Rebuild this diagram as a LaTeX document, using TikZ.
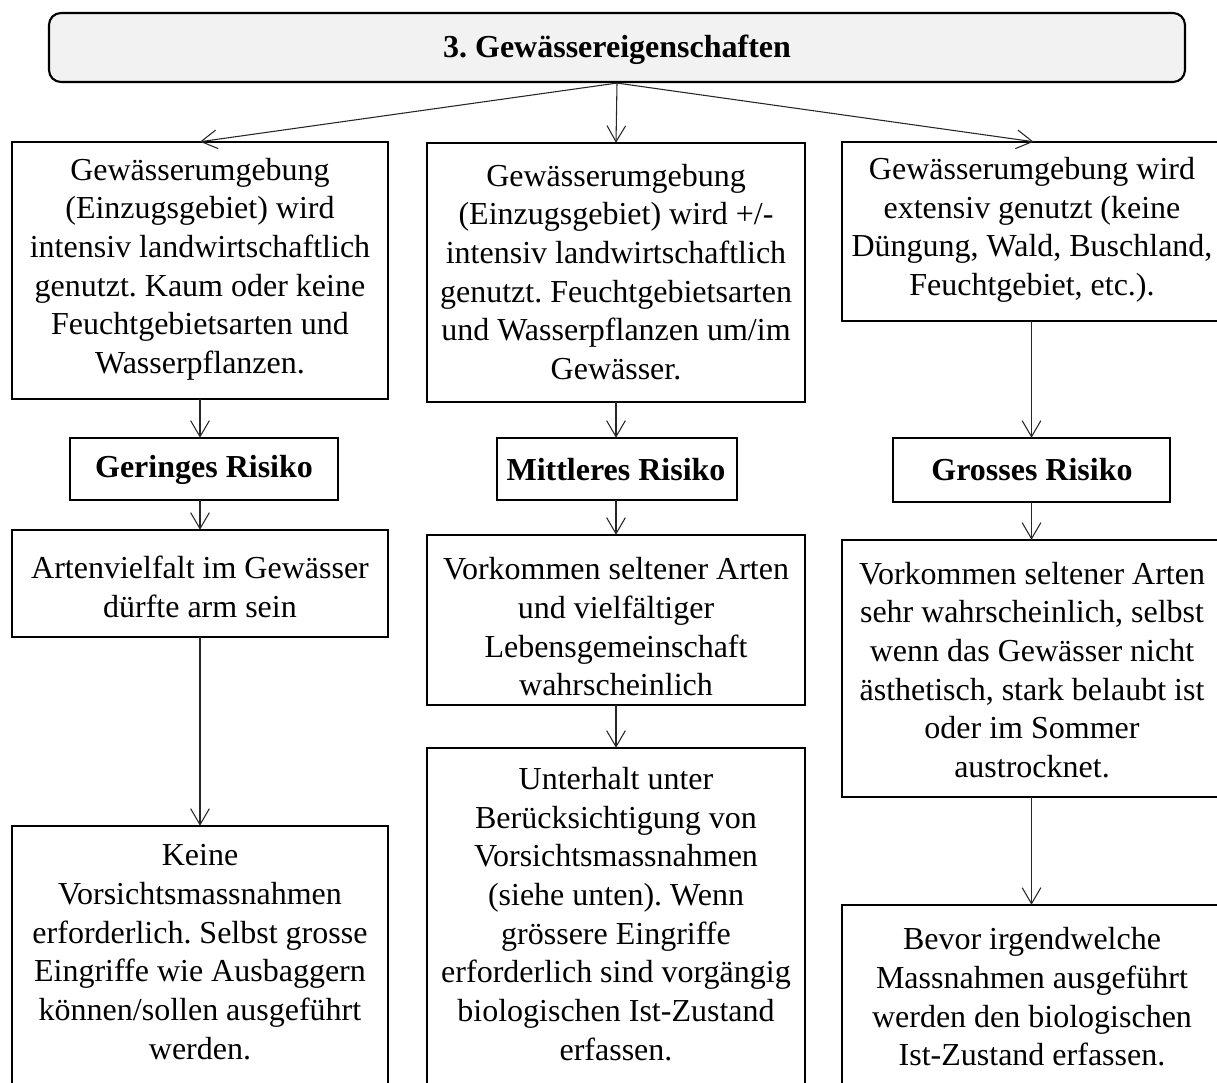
\documentclass[tikz,border=0pt]{standalone}
\usepackage{fontspec}
\setmainfont{Liberation Serif}
\frenchspacing
\usetikzlibrary{arrows.meta}
\definecolor{topfill}{HTML}{F2F2F2}
\tikzset{
  x=0.75pt, y=-0.75pt,
  boxstyle/.style={draw=black, line width=1.6pt, rectangle, inner sep=0pt},
  txt/.style={align=center, font=\fontsize{24}{29}\selectfont, inner sep=0pt},
  btxt/.style={align=center, font=\fontsize{24}{29}\selectfont\bfseries, inner sep=0pt},
  conn/.style={draw=black!85, line width=0.8pt, -{Straight Barb[length=12pt,width=14pt,line width=0.8pt]}},
}
\newcommand{\mybox}[5]{% name, x1, y1, x2, y2
  \path[boxstyle] (#2,#3) rectangle (#4,#5);
  \node[inner sep=0pt, minimum width={(#4-#2)*0.75pt}, minimum height={(#5-#3)*0.75pt}] (#1) at ({(#2+#4)/2},{(#3+#5)/2}) {};
}
\begin{document}
\begin{tikzpicture}
\useasboundingbox (0,0) rectangle (1217,1082);
\clip (0,0) rectangle (1217,1082);
% top box
\node[draw=black, line width=1.6pt, fill=topfill, rounded corners=9pt,
      minimum width={1136*0.75pt}, minimum height={69*0.75pt}, inner sep=0pt] (top) at (617,47.5) {};
\node[btxt] (toptxt) at (617,50) {3. Gewässereigenschaften};

% boxes
\mybox{L1}{12}{142}{388}{399}
\mybox{M1}{427}{143}{805}{402}
\mybox{R1}{842}{142}{1225}{321}
\mybox{G}{70}{438}{338}{500}
\mybox{Mi}{497}{438}{737}{500}
\mybox{Gr}{893}{438}{1170}{502}
\mybox{L2}{12}{530}{388}{637}
\mybox{M2}{427}{535}{805}{705}
\mybox{R2}{842}{540}{1225}{797}
\mybox{L3}{12}{826}{388}{1110}
\mybox{M3}{427}{748}{805}{1110}
\mybox{R3}{842}{905}{1225}{1110}

% texts
\node[txt] (tL1) at (200,269) {Gewässerumgebung\\(Einzugsgebiet) wird\\intensiv landwirtschaftlich\\genutzt. Kaum oder keine\\Feuchtgebietsarten und\\Wasserpflanzen.};
\node[txt] (tM1) at (616,272) {Gewässerumgebung\\(Einzugsgebiet) wird +/-\\intensiv landwirtschaftlich\\genutzt. Feuchtgebietsarten\\und Wasserpflanzen um/im\\Gewässer.};
\node[txt] (tR1) at (1032,230) {Gewässerumgebung wird\\extensiv genutzt (keine\\Düngung, Wald, Buschland,\\Feuchtgebiet, etc.).};
\node[btxt] (tG) at (204,470) {Geringes Risiko};
\node[btxt] (tMi) at (616,470) {Mittleres Risiko};
\node[btxt] (tGr) at (1032,470) {Grosses Risiko};
\node[txt] (tL2) at (200,587) {Artenvielfalt im Gewässer\\dürfte arm sein};
\node[txt] (tM2) at (616,627) {Vorkommen seltener Arten\\und vielfältiger\\Lebensgemeinschaft\\wahrscheinlich};
\node[txt] (tR2) at (1032,670) {Vorkommen seltener Arten\\sehr wahrscheinlich, selbst\\wenn das Gewässer nicht\\ästhetisch, stark belaubt ist\\oder im Sommer\\austrocknet.};
\node[txt] (tL3) at (200,952) {Keine\\Vorsichtsmassnahmen\\erforderlich. Selbst grosse\\Eingriffe wie Ausbaggern\\können/sollen ausgeführt\\werden.};
\node[txt] (tM3) at (616,914) {Unterhalt unter\\Berücksichtigung von\\Vorsichtsmassnahmen\\(siehe unten). Wenn\\grössere Eingriffe\\erforderlich sind vorgängig\\biologischen Ist-Zustand\\erfassen.};
\node[txt] (tR3) at (1032,997) {Bevor irgendwelche\\Massnahmen ausgeführt\\werden den biologischen\\Ist-Zustand erfassen.};

% connectors
\draw[conn] (top.south) -- (L1.north);
\draw[conn] (top.south) -- (M1.north);
\draw[conn] (top.south) -- (R1.north);
\draw[conn] (L1.south) -- (L1.south |- G.north);
\draw[conn] (L1.south |- G.south) -- (L2.north);
\draw[conn] (L2.south) -- (L3.north);
\draw[conn] (M1.south) -- (M1.south |- Mi.north);
\draw[conn] (M1.south |- Mi.south) -- (M2.north);
\draw[conn] (M2.south) -- (M3.north);
\draw[conn] (R1.south -| Gr.north) -- (Gr.north);
\draw[conn] (Gr.south) -- (Gr.south |- R2.north);
\draw[conn] (R2.south -| Gr.south) -- (Gr.south |- R3.north);
\end{tikzpicture}
\end{document}
